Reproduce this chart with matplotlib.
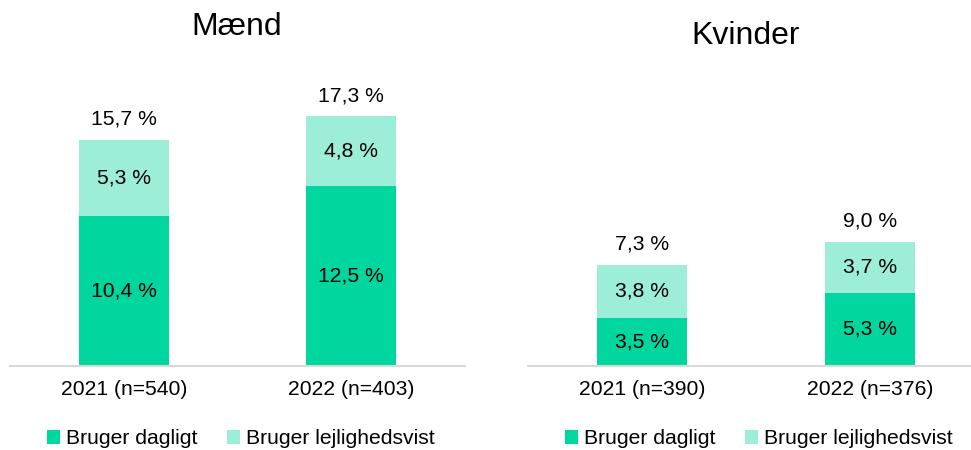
import matplotlib.pyplot as plt
import numpy as np

plt.rcParams['font.family'] = ['Liberation Sans', 'DejaVu Sans']

# data
titles = ['Mænd', 'Kvinder']
categories = [['2021 (n=540)', '2022 (n=403)'], ['2021 (n=390)', '2022 (n=376)']]
daily = [[10.4, 12.5], [3.5, 5.3]]
occasional = [[5.3, 4.8], [3.8, 3.7]]
totals = [[15.7, 17.3], [7.3, 9.0]]
series_names = ['Bruger dagligt', 'Bruger lejlighedsvist']

dark = '#00d69e'
light = '#9deed8'
fs = 15.2


def fmt(v):
    return f'{v:.1f}'.replace('.', ',') + ' %'


fig = plt.figure(figsize=(9.71, 4.5), dpi=100)
axes = [fig.add_axes([10 / 971, 84 / 450, 455 / 971, 300 / 450]),
        fig.add_axes([528 / 971, 84 / 450, 456 / 971, 300 / 450])]
ymax = [20.8, 21.7]
title_x = [237 / 971, 746 / 971]
title_y = [1 - 27 / 450, 1 - 36 / 450]
legend_x = [0.248, 0.782]

for i, ax in enumerate(axes):
    x = np.arange(len(categories[i]))
    b1 = ax.bar(x, daily[i], width=0.395, color=dark, label=series_names[0])
    b2 = ax.bar(x, occasional[i], bottom=daily[i], width=0.395, color=light,
                label=series_names[1])
    for j in x:
        ax.text(j, daily[i][j] / 2, fmt(daily[i][j]), ha='center', va='center', fontsize=fs)
        ax.text(j, daily[i][j] + occasional[i][j] / 2, fmt(occasional[i][j]),
                ha='center', va='center', fontsize=fs)
        ax.annotate(fmt(totals[i][j]), (j, daily[i][j] + occasional[i][j]),
                    xytext=(0, 15), textcoords='offset points',
                    ha='center', va='center', fontsize=fs)
    ax.set_xlim(-0.5, 1.5)
    ax.set_ylim(0, ymax[i])
    ax.set_xticks(x)
    ax.set_xticklabels(categories[i], fontsize=fs)
    ax.tick_params(axis='x', length=0, pad=10)
    ax.set_yticks([])
    for s in ['top', 'right', 'left']:
        ax.spines[s].set_visible(False)
    ax.spines['bottom'].set_color('#d9d9d9')
    ax.spines['bottom'].set_linewidth(1.5)
    fig.text(title_x[i], title_y[i], titles[i], ha='center', va='center', fontsize=23)
    fig.legend(handles=[b1, b2], loc='center', bbox_to_anchor=(legend_x[i], 0.025),
               ncol=2, frameon=False, fontsize=fs, handlelength=0.6, handleheight=0.6,
               handletextpad=0.3, columnspacing=1.4)

fig.savefig('out.png', dpi=100)
